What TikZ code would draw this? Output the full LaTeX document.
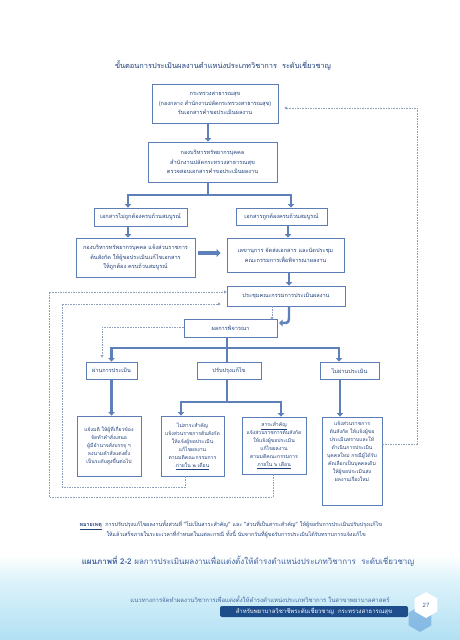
\documentclass[tikz,border=0pt]{standalone}
\usepackage{fontspec}
\setmainfont[Script=Thai]{Loma}
\usetikzlibrary{arrows.meta,shapes.geometric}
\definecolor{boxc}{HTML}{5B7EB6}
\definecolor{txtc}{HTML}{22427C}
\definecolor{arrc}{HTML}{5E80B8}
\definecolor{dshc}{HTML}{8C9FBC}
\definecolor{titc}{HTML}{1A3A75}
\definecolor{capc}{HTML}{3D5E9E}
\definecolor{footm}{HTML}{DDF3FA}
\definecolor{footc}{HTML}{B2E0F4}
\definecolor{bannc}{HTML}{1E4D8C}
\definecolor{ftxt}{HTML}{45669A}
\definecolor{hexb}{HTML}{5C9AD8}
\tikzset{
 box/.style={draw=boxc, line width=0.9pt, fill=white, text=txtc, align=center,
   font=\fontsize{5.6}{9.6}\selectfont, inner sep=1pt},
 sbox/.style={box, font=\fontsize{5.1}{8}\selectfont},
 arr/.style={draw=arrc, line width=2.4pt, -{Triangle[width=6.5pt,length=3.5pt]}},
 thk/.style={draw=arrc, line width=2.4pt},
 dsh/.style={draw=dshc, line width=0.5pt, dash pattern=on 1.6pt off 1pt},
 dsharr/.style={dsh, -{Triangle[width=3pt,length=2.5pt]}},
}
\begin{document}
\begin{tikzpicture}[x=1pt,y=-1pt]
\useasboundingbox (0,0) rectangle (460,640);
\fill[white] (0,0) rectangle (460,640);
\shade[top color=white, bottom color=footm] (0,555) rectangle (460,580);
\shade[top color=footm, bottom color=footc] (0,580) rectangle (460,640);

% title
\node[text=titc, font=\fontsize{7.4}{9}\selectfont] (title) at (223,65) {ขั้นตอนการประเมินผลงานตำแหน่งประเภทวิชาการ~~ระดับเชี่ยวชาญ};

% boxes
\node[box, minimum width=126, minimum height=39] (B1x) at (215,103.5) {กระทรวงสาธารณสุข\\(กองกลาง สำนักงานปลัดกระทรวงสาธารณสุข)\\รับเอกสารคำขอประเมินผลงาน};
\node[box, minimum width=129, minimum height=40] (B2x) at (212.5,162) {กองบริหารทรัพยากรบุคคล\\สำนักงานปลัดกระทรวงสาธารณสุข\\ตรวจสอบเอกสารคำขอประเมินผลงาน};
\node[box, minimum width=93, minimum height=18] (B3L) at (140.5,217) {เอกสารไม่ถูกต้องครบถ้วนสมบูรณ์};
\node[box, minimum width=91, minimum height=17] (B3R) at (281.5,216.5) {เอกสารถูกต้องครบถ้วนสมบูรณ์};
\node[box, minimum width=119, minimum height=39] (B4L) at (135.5,257.5) {กองบริหารทรัพยากรบุคคล แจ้งส่วนราชการ\\ต้นสังกัด ให้ผู้ขอประเมินแก้ไขเอกสาร\\ให้ถูกต้อง ครบถ้วนสมบูรณ์};
\node[box, minimum width=117, minimum height=34] (B4R) at (285.5,255) {เลขานุการ จัดส่งเอกสาร และนัดประชุม\\คณะกรรมการเพื่อพิจารณาผลงาน};
\node[box, minimum width=118, minimum height=20] (B5) at (286,296) {ประชุมคณะกรรมการประเมินผลงาน};
\node[box, minimum width=93, minimum height=18] (B6) at (230.5,328) {ผลการพิจารณา};
\node[box, minimum width=51, minimum height=17] (R1) at (111.5,370.5) {ผ่านการประเมิน};
\node[box, minimum width=64, minimum height=17] (R2) at (229,370.5) {ปรับปรุงแก้ไข};
\node[box, minimum width=59, minimum height=17] (R3) at (349.5,370.5) {ไม่ผ่านประเมิน};
\node[sbox, minimum width=64, minimum height=60] (C1) at (109,446) {แจ้งมติ ให้ผู้ที่เกี่ยวข้อง\\จัดทำคำสั่งเสนอ\\ผู้มีอำนาจสั่งบรรจุ ฯ\\ลงนามคำสั่งแต่งตั้ง\\เป็นระดับสูงขึ้นต่อไป};
\node[sbox, minimum width=63, minimum height=60] (C2) at (192.5,446) {ไม่สาระสำคัญ\\แจ้งส่วนราชการต้นสังกัด\\ให้แจ้งผู้ขอประเมิน\\แก้ไขผลงาน\\ตามมติคณะกรรมการ\\\underline{ภายใน ๒ เดือน}};
\node[sbox, minimum width=64, minimum height=57] (C3) at (274,445.5) {\underline{สาระสำคัญ}\\แจ้งส่วนราชการต้นสังกัด\\ให้แจ้งผู้ขอประเมิน\\แก้ไขผลงาน\\ตามมติคณะกรรมการ\\\underline{ภายใน ๖ เดือน}};
\node[sbox, minimum width=60, minimum height=88, inner sep=0pt] (C4) at (352,461) {\parbox[t][84pt][t]{56pt}{\centering\vspace{2pt}แจ้งส่วนราชการ\\ต้นสังกัด ให้แจ้งผู้ขอ\\ประเมินทราบและให้\\ดำเนินการประเมิน\\บุคคลใหม่ กรณีผู้ได้รับ\\คัดเลือกเป็นบุคคลเดิม\\ให้ผู้ขอประเมินส่ง\\ผลงานเรื่องใหม่}};

% solid connectors
\draw[arr] ([xshift=-7pt]B1x.south) -- ([xshift=-7pt]B1x.south |- B2x.north);
\coordinate (s1) at (208,195);
\draw[thk] (B2x.south -| s1) -- (s1);
\draw[arr] (s1) -| ([xshift=-12.5pt]B3L.north);
\draw[arr] (s1) -| ([xshift=9.5pt]B3R.north);
\draw[arr] ([xshift=-12.5pt]B3L.south) -- ([xshift=-12.5pt]B3L.south |- B4L.north);
\draw[arr] ([xshift=6.5pt]B3R.south) -- ([xshift=6.5pt]B3R.south |- B4R.north);
\draw[arr] ([xshift=3.5pt]B4R.south) -- ([xshift=3.5pt]B4R.south |- B5.north);
\draw[draw=arrc, line width=3.6pt, -{Triangle[width=8pt,length=4pt]}, shorten <=3pt, shorten >=6pt]
  ([yshift=4.5pt]B4L.east) -- ([yshift=4.5pt]B4L.east -| B4R.west);
\coordinate (c1) at (289,314);
\coordinate (c2) at (279,323);
\draw[arr] (B5.south -| c1) -- (c1) .. controls (289,323) .. (c2);
\coordinate (s2) at (227,348);
\draw[thk] (B6.south -| s2) -- (s2 |- R2.north);
\draw[arr] (s2) -| (R1.north);
\draw[arr] (s2) -| ([xshift=-10.5pt]R3.north);
\draw[arr] (R1.south) -- (R1.south |- C1.north);
\coordinate (s3) at (227,402);
\draw[thk] (R2.south -| s3) -- (s3);
\draw[arr] (s3) -| ([xshift=-11.5pt]C2.north);
\draw[arr] (s3) -| ([xshift=7pt]C3.north);
\draw[arr] ([xshift=-9.5pt]R3.south) -- ([xshift=-9.5pt]R3.south |- C4.north);

% dashed connectors
\draw[dsharr, shorten >=-1pt] ([xshift=-14pt]B5.south) -- ([xshift=-14pt]B5.south |- B6.north);
\coordinate (rt) at (417,108);
\draw[dsharr, shorten >=6pt] ([yshift=17pt]C4.east) -| (rt) -- ([yshift=-4.5pt]B1x.east);
\coordinate (lo1) at (49,497);
\draw[dsharr] ([xshift=-1pt]C3.south) |- (lo1) |- ([yshift=4pt]B5.west);
\coordinate (li1) at (62,487);
\draw[dsharr, shorten >=6pt] ([xshift=-7.5pt]C2.south) |- (li1) |- ([yshift=-8pt]B5.west);
\draw[dsharr, shorten >=4pt] ([yshift=1pt]B6.west) -| ([xshift=-9.5pt]R1.north);

% note
\node[anchor=west, text=txtc, font=\fontsize{5.4}{10}\selectfont, align=left] (note) at (76,529)
 {\textbf{\underline{หมายเหตุ}}~~การปรับปรุงแก้ไขผลงานทั้งส่วนที่ “ไม่เป็นสาระสำคัญ” และ “ส่วนที่เป็นสาระสำคัญ” ให้ผู้ขอรับการประเมินปรับปรุงแก้ไข\\
 \hspace*{27pt}ให้แล้วเสร็จภายในระยะเวลาที่กำหนดในแต่ละกรณี ทั้งนี้ นับจากวันที่ผู้ขอรับการประเมินได้รับทราบการแจ้งแก้ไข};

% caption
\node[text=capc, font=\fontsize{8}{10}\selectfont] (cap) at (248,561)
 {\textbf{แผนภาพที่ 2-2} ผลการประเมินผลงานเพื่อแต่งตั้งให้ดำรงตำแหน่งประเภทวิชาการ~~ระดับเชี่ยวชาญ};

% footer
\node[text=ftxt, font=\fontsize{6}{7}\selectfont] (f1) at (260,599) {แนวทางการจัดทำผลงานวิชาการเพื่อแต่งตั้งให้ดำรงตำแหน่งประเภทวิชาการ ในสาขาพยาบาลศาสตร์};
\fill[bannc, rounded corners=2pt] (220,606) rectangle (408,617);
\node[text=white, font=\fontsize{6}{7}\selectfont] (f2) at (314,611.5) {สำหรับพยาบาลวิชาชีพระดับเชี่ยวชาญ~~กระทรวงสาธารณสุข};
\node[regular polygon, regular polygon sides=6, shape border rotate=30, fill=hexb, fill opacity=0.55, minimum size=26pt, inner sep=0pt] (hx) at (420,619) {};
\node[regular polygon, regular polygon sides=6, shape border rotate=30, fill=white, minimum size=26pt, inner sep=0pt, text=ftxt, font=\fontsize{6}{7}\selectfont] (pg) at (426,605) {27};
\end{tikzpicture}
\end{document}
